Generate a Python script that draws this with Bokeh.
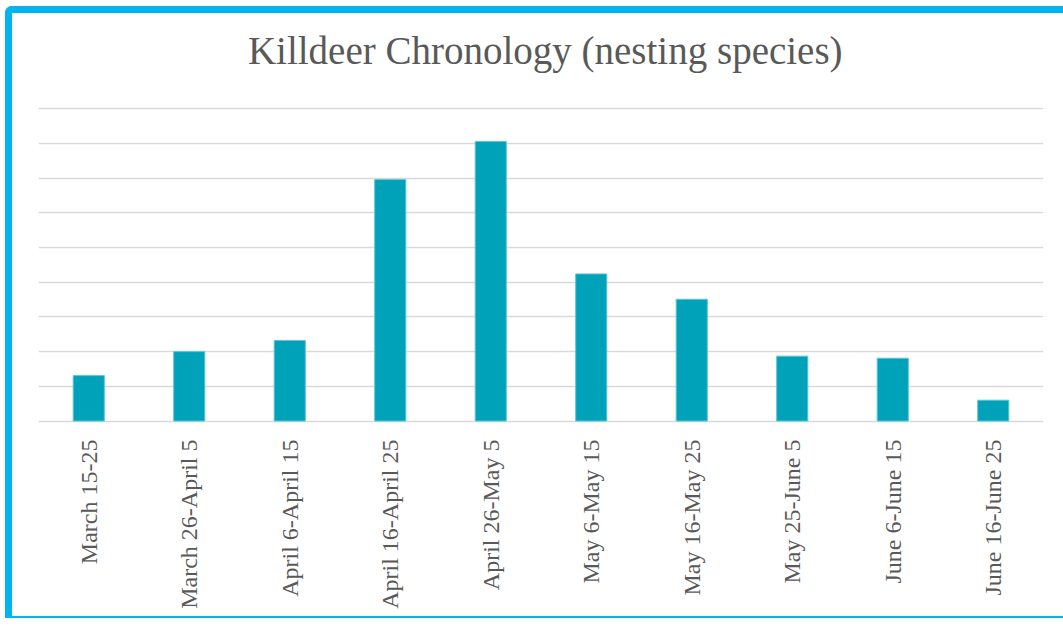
import math
from bokeh.plotting import figure
from bokeh.models import Range1d, FactorRange, FixedTicker
from bokeh.core.properties import value
from bokeh.embed import file_html
from bokeh.resources import INLINE

categories = ["March 15-25", "March 26-April 5", "April 6-April 15", "April 16-April 25",
              "April 26-May 5", "May 6-May 15", "May 16-May 25", "May 25-June 5",
              "June 6-June 15", "June 16-June 25"]
values = [1.31, 2.0, 2.32, 6.96, 8.06, 4.24, 3.51, 1.87, 1.81, 0.6]
grid_ticks = [0, 1, 2, 3, 4, 5, 6, 7, 8, 9]
title_text = "Killdeer Chronology (nesting species)"

TEXT = "#595959"
FONT = "Liberation Serif"

# frame extends to the top of the canvas so the title can sit inside it
p = figure(width=1070, height=612, x_range=FactorRange(factors=categories, range_padding=0),
           y_range=Range1d(-0.1, 11.746), output_backend="svg", toolbar_location=None,
           min_border_left=26, min_border_right=39, min_border_top=0, min_border_bottom=201)
p.styles = {"margin-left": "5px", "margin-top": "6px",
            "border-left": "7px solid #00B4F0", "border-top": "7px solid #00B4F0",
            "border-bottom": "2px solid #00B4F0", "border-top-left-radius": "7px"}

p.vbar(x=categories, top=values, width=0.31, fill_color="#00A2B9", line_color="#5FC5D2", line_width=1)

p.text(x=[categories[5]], y=[10.67], text=[title_text], x_offset=-46,
       text_align="center", text_baseline="alphabetic",
       text_font=value(FONT), text_font_size="39px", text_color=TEXT)

p.outline_line_color = None
p.background_fill_color = "white"
p.border_fill_color = "white"
p.xgrid.grid_line_color = None
p.ygrid.ticker = FixedTicker(ticks=grid_ticks)
p.ygrid.grid_line_color = "#D9D9D9"
p.ygrid.grid_line_width = 1.5
p.yaxis.visible = False

p.xaxis.axis_line_color = None
p.xaxis.major_tick_line_color = None
p.xaxis.minor_tick_line_color = None
p.xaxis.major_label_orientation = math.pi / 2
p.xaxis.major_label_standoff = 9
p.xaxis.major_label_text_font = FONT
p.xaxis.major_label_text_font_size = "24px"
p.xaxis.major_label_text_color = TEXT

html = file_html(p, INLINE)
html = html.replace("<head>", "<head><style>html,body{margin:0;padding:0;overflow:hidden;}</style>", 1)
open("out.html", "w").write(html)
